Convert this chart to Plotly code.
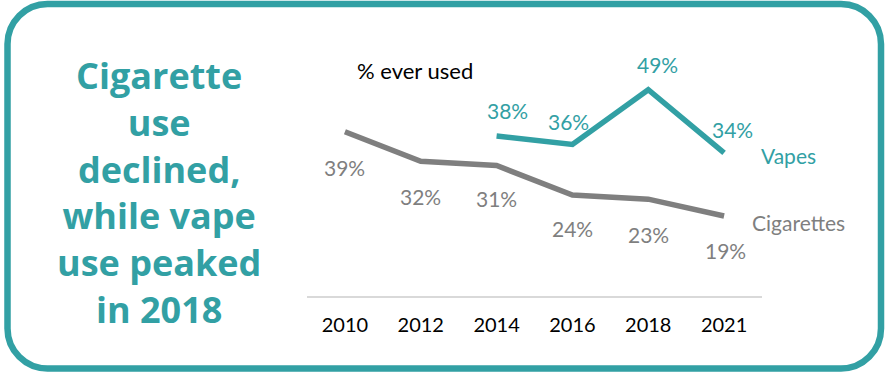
import plotly.graph_objects as go

# Survey years and share of respondents who have ever used each product (%)
years = ["2010", "2012", "2014", "2016", "2018", "2021"]
cigarettes = [39, 32, 31, 24, 23, 19]
vapes = [None, None, 38, 36, 49, 34]

TEAL = "#32a0a4"
GREY = "#7f7f7f"
FONT = "Lato"
LABEL_SIZE = 21

# Figure geometry (pixels)
W, H = 887, 374
PL, PR, PT, PB = 307, 762, 64, 296   # plot-area edges


def px(x):
    return (x - PL) / (PR - PL)


def py(y):
    return (PB - y) / (PB - PT)


fig = go.Figure()
fig.add_trace(go.Scatter(x=years, y=cigarettes, mode="lines",
                         line=dict(color=GREY, width=5.5), hoverinfo="skip"))
fig.add_trace(go.Scatter(x=years, y=vapes, mode="lines",
                         line=dict(color=TEAL, width=5.5), hoverinfo="skip"))

annotations = []

# Value labels: cigarettes below the line, vapes above it
# (category axes take the category index as the annotation position)
cig_shift = [(0, -36), (0, -35), (0, -33), (0, -34), (0, -35), (1, -34)]
for i, (v, (dx, dy)) in enumerate(zip(cigarettes, cig_shift)):
    annotations.append(dict(x=i, y=v, text=f"{v}%", showarrow=False,
                            xshift=dx, yshift=dy,
                            font=dict(family=FONT, size=LABEL_SIZE, color=GREY)))

vape_shift = [(0, 0), (0, 0), (11, 26), (-4, 23), (9, 25), (8, 23)]
for i, (v, (dx, dy)) in enumerate(zip(vapes, vape_shift)):
    if v is None:
        continue
    annotations.append(dict(x=i, y=v, text=f"{v}%", showarrow=False,
                            xshift=dx, yshift=dy,
                            font=dict(family=FONT, size=LABEL_SIZE, color=TEAL)))

# Series names at the end of each line
last = len(years) - 1
annotations.append(dict(x=last, y=vapes[-1], text="Vapes", showarrow=False,
                        xanchor="left", xshift=35, yshift=-3,
                        font=dict(family=FONT, size=LABEL_SIZE, color=TEAL)))
annotations.append(dict(x=last, y=cigarettes[-1], text="Cigarettes",
                        showarrow=False, xanchor="left", xshift=26, yshift=-6,
                        font=dict(family=FONT, size=LABEL_SIZE, color=GREY)))

# Chart subtitle
annotations.append(dict(xref="paper", yref="paper", x=px(355), y=py(70),
                        xanchor="left", yanchor="middle", text="% ever used",
                        showarrow=False,
                        font=dict(family=FONT, size=22, color="#000000")))

# Headline on the left
annotations.append(dict(xref="paper", yref="paper", x=px(159), y=py(192),
                        xanchor="center", yanchor="middle", align="center",
                        text="<b>Cigarette<br>use<br>declined,<br>while vape<br>"
                             "use peaked<br>in 2018</b>",
                        showarrow=False,
                        font=dict(family="Open Sans", size=36, color=TEAL)))

# Rounded frame around the whole panel
x0, y0, x1, y1, r = 7.5, 4.0, 881.0, 368.5, 40.0
k = 0.5523 * r


def P(x, y):
    return f"{px(x):.5f},{py(y):.5f}"


path = (f"M {P(x0 + r, y0)} L {P(x1 - r, y0)} "
        f"C {P(x1 - r + k, y0)} {P(x1, y0 + r - k)} {P(x1, y0 + r)} "
        f"L {P(x1, y1 - r)} "
        f"C {P(x1, y1 - r + k)} {P(x1 - r + k, y1)} {P(x1 - r, y1)} "
        f"L {P(x0 + r, y1)} "
        f"C {P(x0 + r - k, y1)} {P(x0, y1 - r + k)} {P(x0, y1 - r)} "
        f"L {P(x0, y0 + r)} "
        f"C {P(x0, y0 + r - k)} {P(x0 + r - k, y0)} {P(x0 + r, y0)} Z")

fig.update_layout(
    width=W, height=H,
    margin=dict(l=PL, r=W - PR, t=PT, b=H - PB, pad=0),
    paper_bgcolor="white", plot_bgcolor="white",
    showlegend=False,
    annotations=annotations,
    shapes=[dict(type="path", xref="paper", yref="paper", path=path,
                 line=dict(color=TEAL, width=6.5), fillcolor="rgba(0,0,0,0)",
                 layer="below")],
    xaxis=dict(type="category", range=[-0.5, 5.5], showgrid=False,
               zeroline=False, showline=True, linecolor="#d9d9d9",
               linewidth=1.5, ticks="", ticklabelstandoff=10,
               tickfont=dict(family=FONT, size=20, color="#000000")),
    yaxis=dict(range=[0, (PB - PT) / 4.21], visible=False, showgrid=False,
               zeroline=False),
)

fig.write_html("out.html")
